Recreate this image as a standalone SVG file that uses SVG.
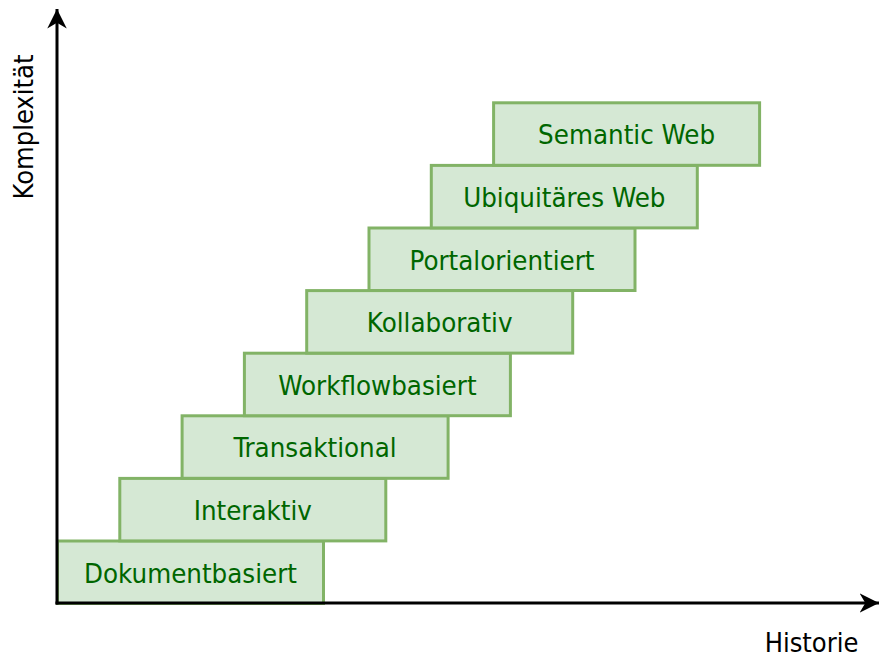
<svg xmlns="http://www.w3.org/2000/svg" width="879" height="657" viewBox="0 0 879 657">
  <style>
    .step rect { fill: #d5e8d4; stroke: #82b366; stroke-width: 3; }
    .step text { fill: #006600; font-family: "DejaVu Sans Condensed", "DejaVu Sans", sans-serif; font-size: 27.4px; text-anchor: middle; }
    .axis { stroke: #000; stroke-width: 3; fill: none; }
    .axis-label { fill: #000; font-family: "DejaVu Sans Condensed", "DejaVu Sans", sans-serif; font-size: 27px; text-anchor: middle; }
  </style>
  <defs>
    <marker id="arrow" viewBox="0 0 10 10" refX="10" refY="5" markerWidth="6.5" markerHeight="6.5" markerUnits="strokeWidth" orient="auto">
      <path d="M0,0 L10,5 L0,10 L3,5 Z" fill="#000"/>
    </marker>
  </defs>

  <!-- staircase of stages, bottom to top -->
  <g id="dokumentbasiert" class="step">
    <rect x="57.5" y="541" width="266" height="62.5"/>
    <text x="190.5" y="582.5">Dokumentbasiert</text>
  </g>
  <g id="interaktiv" class="step">
    <rect x="119.8" y="478.4" width="266" height="62.5"/>
    <text x="252.8" y="519.9">Interaktiv</text>
  </g>
  <g id="transaktional" class="step">
    <rect x="182.1" y="415.8" width="266" height="62.5"/>
    <text x="315.1" y="457.3">Transaktional</text>
  </g>
  <g id="workflowbasiert" class="step">
    <rect x="244.4" y="353.2" width="266" height="62.5"/>
    <text x="377.4" y="394.7">Workflowbasiert</text>
  </g>
  <g id="kollaborativ" class="step">
    <rect x="306.7" y="290.6" width="266" height="62.5"/>
    <text x="439.7" y="332.1">Kollaborativ</text>
  </g>
  <g id="portalorientiert" class="step">
    <rect x="369" y="228" width="266" height="62.5"/>
    <text x="502" y="269.5">Portalorientiert</text>
  </g>
  <g id="ubiquitaeres-web" class="step">
    <rect x="431.3" y="165.4" width="266" height="62.5"/>
    <text x="564.3" y="206.9">Ubiquitäres Web</text>
  </g>
  <g id="semantic-web" class="step">
    <rect x="493.6" y="102.8" width="266" height="62.5"/>
    <text x="626.6" y="144.3">Semantic Web</text>
  </g>

  <!-- axes -->
  <g id="connectors">
    <path class="axis" d="M57,604.5 L57,9" marker-end="url(#arrow)"/>
    <path class="axis" d="M55.5,603 L879,603" marker-end="url(#arrow)"/>
  </g>

  <text class="axis-label" transform="translate(33,127) rotate(-90)">Komplexität</text>
  <text class="axis-label" x="811.5" y="652">Historie</text>
</svg>
